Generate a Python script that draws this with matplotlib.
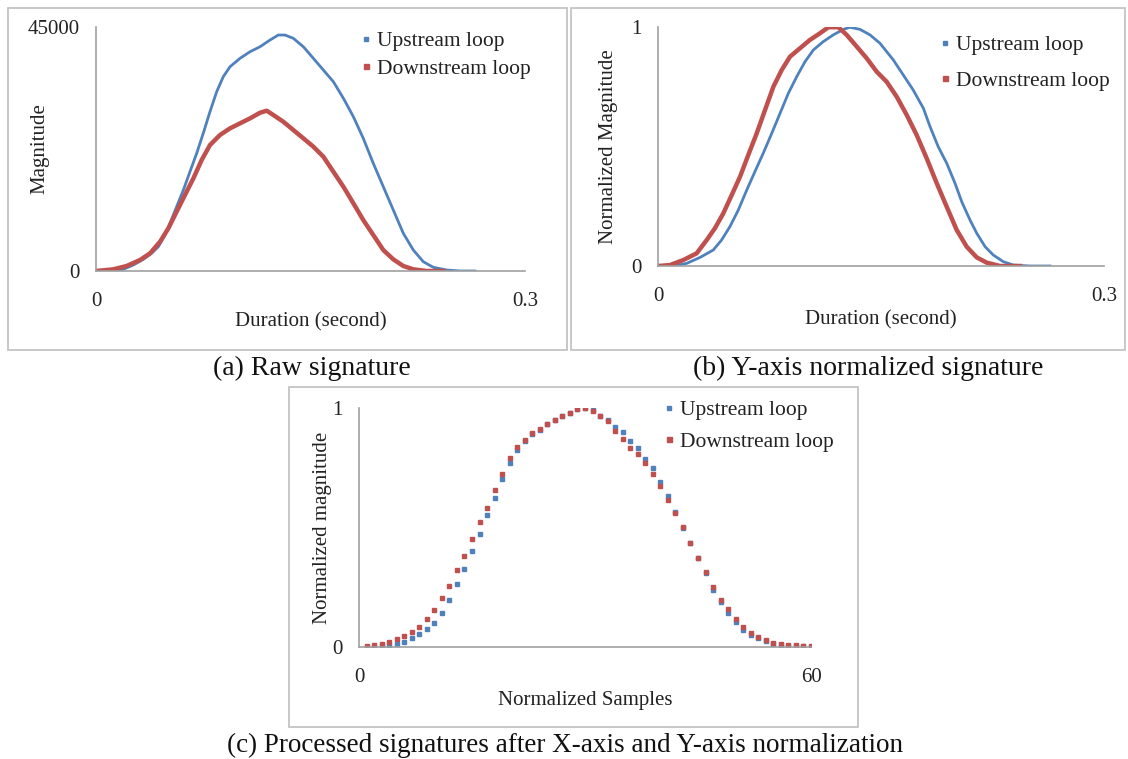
import matplotlib
matplotlib.use('Agg')
import matplotlib.pyplot as plt
from matplotlib.patches import Rectangle
from matplotlib.lines import Line2D

plt.rcParams['font.family'] = ['Liberation Serif', 'DejaVu Serif']

# ---- data ----
# (a) raw signature
raw_up_t = [0, 0.0121, 0.0191, 0.0261, 0.0331, 0.0389, 0.0436, 0.0483, 0.0517, 0.0564,
            0.0611, 0.0657, 0.0704, 0.0750, 0.0797, 0.0844, 0.0890, 0.0937, 0.1007, 0.1077,
            0.1147, 0.1217, 0.1275, 0.1322, 0.1380, 0.1450, 0.1520, 0.1590, 0.1660, 0.1730,
            0.1800, 0.1869, 0.1939, 0.2009, 0.2079, 0.2149, 0.2219, 0.2289, 0.2359, 0.2452,
            0.2545, 0.2650]
raw_up_v = [0, 0, 313, 1106, 2150, 3260, 4480, 6640, 8800, 11860,
            14940, 18310, 21700, 25390, 29380, 33070, 35830, 37670, 39220, 40440,
            41360, 42600, 43520, 43520, 42910, 41360, 39220, 37060, 34910, 31850,
            28450, 24470, 19860, 15550, 11250, 6950, 3870, 1710, 680, 180,
            0, 0]
raw_down_t = [0, 0.0121, 0.0214, 0.0308, 0.0378, 0.0448, 0.0506, 0.0564, 0.0622, 0.0681,
              0.0739, 0.0797, 0.0867, 0.0937, 0.1007, 0.1077, 0.1147, 0.1194, 0.1240, 0.1310,
              0.1380, 0.1450, 0.1520, 0.1590, 0.1660, 0.1730, 0.1800, 0.1869, 0.1939, 0.2009,
              0.2079, 0.2149, 0.2219, 0.2312, 0.2429]
raw_down_v = [0, 310, 920, 2030, 3260, 5410, 7870, 10940, 14010, 17090,
              20470, 23230, 25080, 26310, 27230, 28150, 29190, 29560, 28770, 27530,
              26000, 24470, 22930, 21080, 18310, 15550, 12480, 9400, 6640, 3870,
              2150, 920, 310, 0, 0]

# (b) y-axis normalized
ny_up_t = [0, 0.0103, 0.0193, 0.0283, 0.0372, 0.0428, 0.0484, 0.0540, 0.0597, 0.0652,
           0.0708, 0.0765, 0.0821, 0.0877, 0.0933, 0.0989, 0.1045, 0.1112, 0.1179, 0.1247,
           0.1291, 0.1359, 0.1426, 0.1493, 0.1583, 0.1650, 0.1717, 0.1785, 0.1830, 0.1885,
           0.1942, 0.1998, 0.2043, 0.2099, 0.2144, 0.2200, 0.2255, 0.2323, 0.2390, 0.2502,
           0.2637]
ny_up_v = [0, 0, 0.011, 0.036, 0.067, 0.109, 0.165, 0.234, 0.318, 0.395,
           0.472, 0.555, 0.639, 0.723, 0.792, 0.855, 0.904, 0.939, 0.967, 0.990,
           0.999, 0.990, 0.967, 0.932, 0.862, 0.799, 0.736, 0.660, 0.583, 0.499,
           0.430, 0.346, 0.269, 0.192, 0.137, 0.081, 0.046, 0.018, 0.004, 0,
           0]
ny_down_t = [0, 0.0081, 0.0170, 0.0260, 0.0328, 0.0383, 0.0439, 0.0496, 0.0552, 0.0607,
             0.0664, 0.0720, 0.0776, 0.0832, 0.0888, 0.0955, 0.1022, 0.1090, 0.1146, 0.1213,
             0.1269, 0.1337, 0.1404, 0.1471, 0.1538, 0.1606, 0.1673, 0.1740, 0.1807, 0.1875,
             0.1942, 0.2009, 0.2076, 0.2144, 0.2211, 0.2301, 0.2435]
ny_down_v = [0, 0.004, 0.025, 0.053, 0.109, 0.158, 0.220, 0.297, 0.374, 0.464,
             0.555, 0.653, 0.750, 0.820, 0.876, 0.911, 0.946, 0.974, 0.999, 0.999,
             0.967, 0.918, 0.869, 0.813, 0.771, 0.708, 0.632, 0.548, 0.451, 0.346,
             0.248, 0.151, 0.081, 0.036, 0.014, 0, 0]

# (c) x- and y-axis normalized, 60 samples
samples = list(range(1, 61))
proc_up = [0, 0.002, 0.004, 0.008, 0.013, 0.021, 0.038, 0.055, 0.075, 0.100,
           0.142, 0.197, 0.264, 0.326, 0.402, 0.473, 0.552, 0.622, 0.701, 0.770,
           0.824, 0.860, 0.890, 0.910, 0.933, 0.950, 0.966, 0.980, 0.995, 1.0,
           0.990, 0.968, 0.950, 0.921, 0.900, 0.862, 0.833, 0.787, 0.749, 0.690,
           0.632, 0.565, 0.500, 0.437, 0.373, 0.310, 0.238, 0.190, 0.142, 0.105,
           0.071, 0.052, 0.036, 0.025, 0.014, 0.010, 0.006, 0.005, 0.003, 0.002]
proc_down = [0.004, 0.008, 0.013, 0.021, 0.033, 0.046, 0.063, 0.084, 0.117, 0.155,
             0.205, 0.255, 0.322, 0.381, 0.452, 0.522, 0.582, 0.656, 0.723, 0.792,
             0.835, 0.866, 0.894, 0.912, 0.933, 0.950, 0.966, 0.980, 0.995, 1.0,
             0.989, 0.966, 0.946, 0.904, 0.870, 0.833, 0.808, 0.770, 0.724, 0.674,
             0.615, 0.561, 0.502, 0.437, 0.373, 0.314, 0.251, 0.197, 0.159, 0.117,
             0.084, 0.059, 0.042, 0.029, 0.017, 0.013, 0.008, 0.008, 0.004, 0.004]

series_names = ['Upstream loop', 'Downstream loop']
captions = ['(a) Raw signature', '(b) Y-axis normalized signature',
            '(c) Processed signatures after X-axis and Y-axis normalization']

BLUE = '#4f81bd'
RED = '#c0504d'
TXT = '#222222'
W, H = 1128, 759

fig = plt.figure(figsize=(W / 100, H / 100), dpi=100)


def axes_px(x0, x1, ytop, ybot):
    return fig.add_axes([x0 / W, 1 - ybot / H, (x1 - x0) / W, (ybot - ytop) / H])


def frame_px(x0, y0, x1, y1):
    fig.add_artist(Rectangle((x0 / W, 1 - y1 / H), (x1 - x0) / W, (y1 - y0) / H,
                             transform=fig.transFigure, fill=False,
                             ec='#c4c4c4', lw=1.3))


def style(ax, xticks, xlabels, yticks, ylabels, xlabel, ylabel, xl_y, yl_x):
    for s in ['top', 'right']:
        ax.spines[s].set_visible(False)
    for s in ['left', 'bottom']:
        ax.spines[s].set_color('#a0a0a0')
        ax.spines[s].set_linewidth(1.2)
    ax.set_xticks(xticks, xlabels)
    ax.set_yticks(yticks, ylabels)
    ax.tick_params(axis='x', length=0, pad=15, labelsize=15, labelcolor=TXT)
    ax.tick_params(axis='y', length=0, pad=12, labelsize=15, labelcolor=TXT)
    ax.set_xlabel(xlabel, fontsize=15, color=TXT, va='center')
    ax.set_ylabel(ylabel, fontsize=15, color=TXT, va='center')
    ax.xaxis.set_label_coords(0.5, xl_y)
    ax.yaxis.set_label_coords(yl_x, 0.5)


def legend_px(ax, x, y, spacing, up_ms, down_ms):
    handles = [Line2D([], [], ls='none', marker='s', ms=up_ms, color=BLUE),
               Line2D([], [], ls='none', marker='s', ms=down_ms, color=RED)]
    leg = ax.legend(handles, series_names, loc='upper left',
                    bbox_to_anchor=(x / W, 1 - y / H), bbox_transform=fig.transFigure,
                    frameon=False, borderpad=0, borderaxespad=0, handlelength=0.4,
                    handletextpad=0.3, labelspacing=spacing, fontsize=15.5)
    for t in leg.get_texts():
        t.set_color(TXT)


# panel frames
frame_px(8, 8, 567, 350)
frame_px(571, 8, 1125, 350)
frame_px(289, 387, 858, 727)

# (a)
ax1 = axes_px(96, 525, 27, 271)
ax1.plot(raw_up_t, raw_up_v, color=BLUE, lw=2.0)
ax1.plot(raw_down_t, raw_down_v, color=RED, lw=3.2)
ax1.set_xlim(0, 0.3)
ax1.set_ylim(0, 45000)
style(ax1, [0, 0.3], ['0', '0.3'], [0, 45000], ['0', '45000'],
      'Duration (second)', 'Magnitude', -0.21, -0.13)
legend_px(ax1, 362, 31, 0.35, 2.2, 3.6)

# (b)
ax2 = axes_px(658, 1104, 27, 266)
ax2.plot(ny_up_t, ny_up_v, color=BLUE, lw=2.0)
ax2.plot(ny_down_t, ny_down_v, color=RED, lw=3.2)
ax2.set_xlim(0, 0.3)
ax2.set_ylim(0, 1)
style(ax2, [0, 0.3], ['0', '0.3'], [0, 1], ['0', '1'],
      'Duration (second)', 'Normalized Magnitude', -0.226, -0.112)
legend_px(ax2, 941, 35, 0.72, 2.2, 3.6)

# (c)
ax3 = axes_px(359, 811, 408, 647)
ax3.plot(samples, proc_up, ls='none', marker='s', ms=2.2, color=BLUE)
ax3.plot(samples, proc_down, ls='none', marker='s', ms=3.4, color=RED)
ax3.set_xlim(0, 60)
ax3.set_ylim(0, 1)
style(ax3, [0, 60], ['0', '60'], [0, 1], ['0', '1'],
      'Normalized Samples', 'Normalized magnitude', -0.223, -0.08)
legend_px(ax3, 665, 400, 0.55, 2.2, 3.6)

# captions
fig.text(312 / W, 1 - 368 / H, captions[0], ha='center', va='center', fontsize=20, color='#111111')
fig.text(868 / W, 1 - 368 / H, captions[1], ha='center', va='center', fontsize=20, color='#111111')
fig.text(565 / W, 1 - 745 / H, captions[2], ha='center', va='center', fontsize=19.5, color='#111111')

fig.savefig('out.png', dpi=100)
